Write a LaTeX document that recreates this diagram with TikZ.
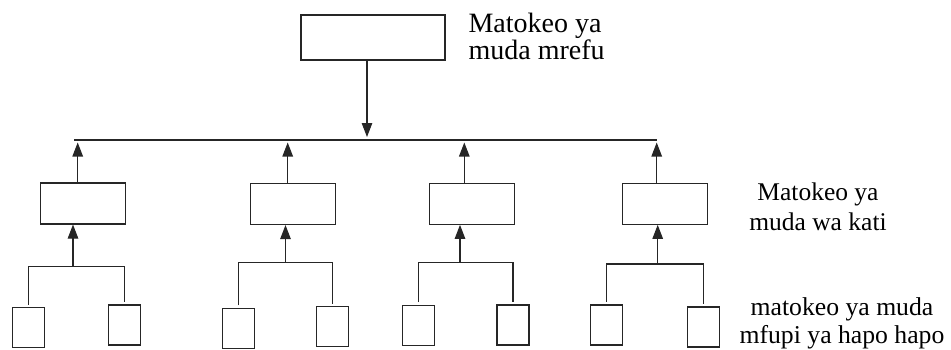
\documentclass[tikz,border=0pt]{standalone}
\usepackage{fontspec}
\setmainfont{Liberation Serif}
\usetikzlibrary{arrows.meta,positioning}

\colorlet{ink}{black!85}

\begin{document}
\begin{tikzpicture}[x=1pt, y=-1pt, line width=1.1pt,
  goal/.style={draw=ink, minimum width=144pt, minimum height=45pt, inner sep=0pt},
  box/.style={draw=ink, minimum width=85pt, minimum height=41pt, inner sep=0pt},
  leaf/.style={draw=ink, minimum width=32pt, minimum height=40pt, inner sep=0pt},
  link/.style={draw=ink},
  arr/.style={draw=ink, -{Triangle[length=14pt,width=10.5pt]}},
  lbl/.style={inner sep=0pt, align=center}]
\useasboundingbox (0,0) rectangle (951,349);

% Boxes
\node[goal] (top) at (373,37.5) {};

\node[box] (mid1) at (82.7,203.5) {};
\node[box] (mid2) at (293.3,204) {};
\node[box] (mid3) at (471.7,203.8) {};
\node[box] (mid4) at (665,203.8) {};

\node[leaf] (short1-l) at (28.2,327.8) {};
\node[leaf] (short1-r) at (124.7,325) {};
\node[leaf] (short2-l) at (238.3,328.3) {};
\node[leaf] (short2-r) at (332.8,326.8) {};
\node[leaf] (short3-l) at (418.3,325.2) {};
\node[leaf] (short3-r) at (513,325) {};
\node[leaf] (short4-l) at (606.7,325) {};
\node[leaf] (short4-r) at (703.5,327) {};

% Labels
\node[lbl, align=left, anchor=north west, font=\fontsize{28}{26.7}\selectfont]
  (ltop) at (468,12.6) {Matokeo ya\\muda mrefu};
\node[lbl, anchor=north, font=\fontsize{25.5}{30.7}\selectfont]
  (lmid) at (818,181.9) {Matokeo ya\\muda wa kati};
\node[lbl, anchor=north, font=\fontsize{25.7}{27.7}\selectfont]
  (lshort) at (842,297.4) {matokeo ya muda\\mfupi ya hapo hapo};

% Bus and joints
\coordinate (busL) at (74,140);
\coordinate (busR) at (657,140);
\coordinate (down) at (367,140);
\coordinate (up1) at (77.7,140);
\coordinate (up2) at (287.7,140);
\coordinate (up3) at (464.3,140);
\coordinate (up4) at (656.7,140);
\coordinate (br1) at (73,266.7);
\coordinate (br2) at (285.5,262.7);
\coordinate (br3) at (460,262.3);
\coordinate (br4) at (657.7,264);

% Connectors
\draw[link] (busL) -- (busR);
\draw[arr, shorten >=3pt] (down |- top.south) -- (down);
\foreach \i in {1,...,4} {
  \draw[arr, shorten >=2.5pt] (up\i |- mid\i.north) -- (up\i);
  \draw[arr] (br\i) -- (br\i |- mid\i.south);
  \draw[link, shorten <=2.5pt, shorten >=2.5pt]
    (short\i-l.north) |- (br\i) -| (short\i-r.north);
}
\end{tikzpicture}
\end{document}
